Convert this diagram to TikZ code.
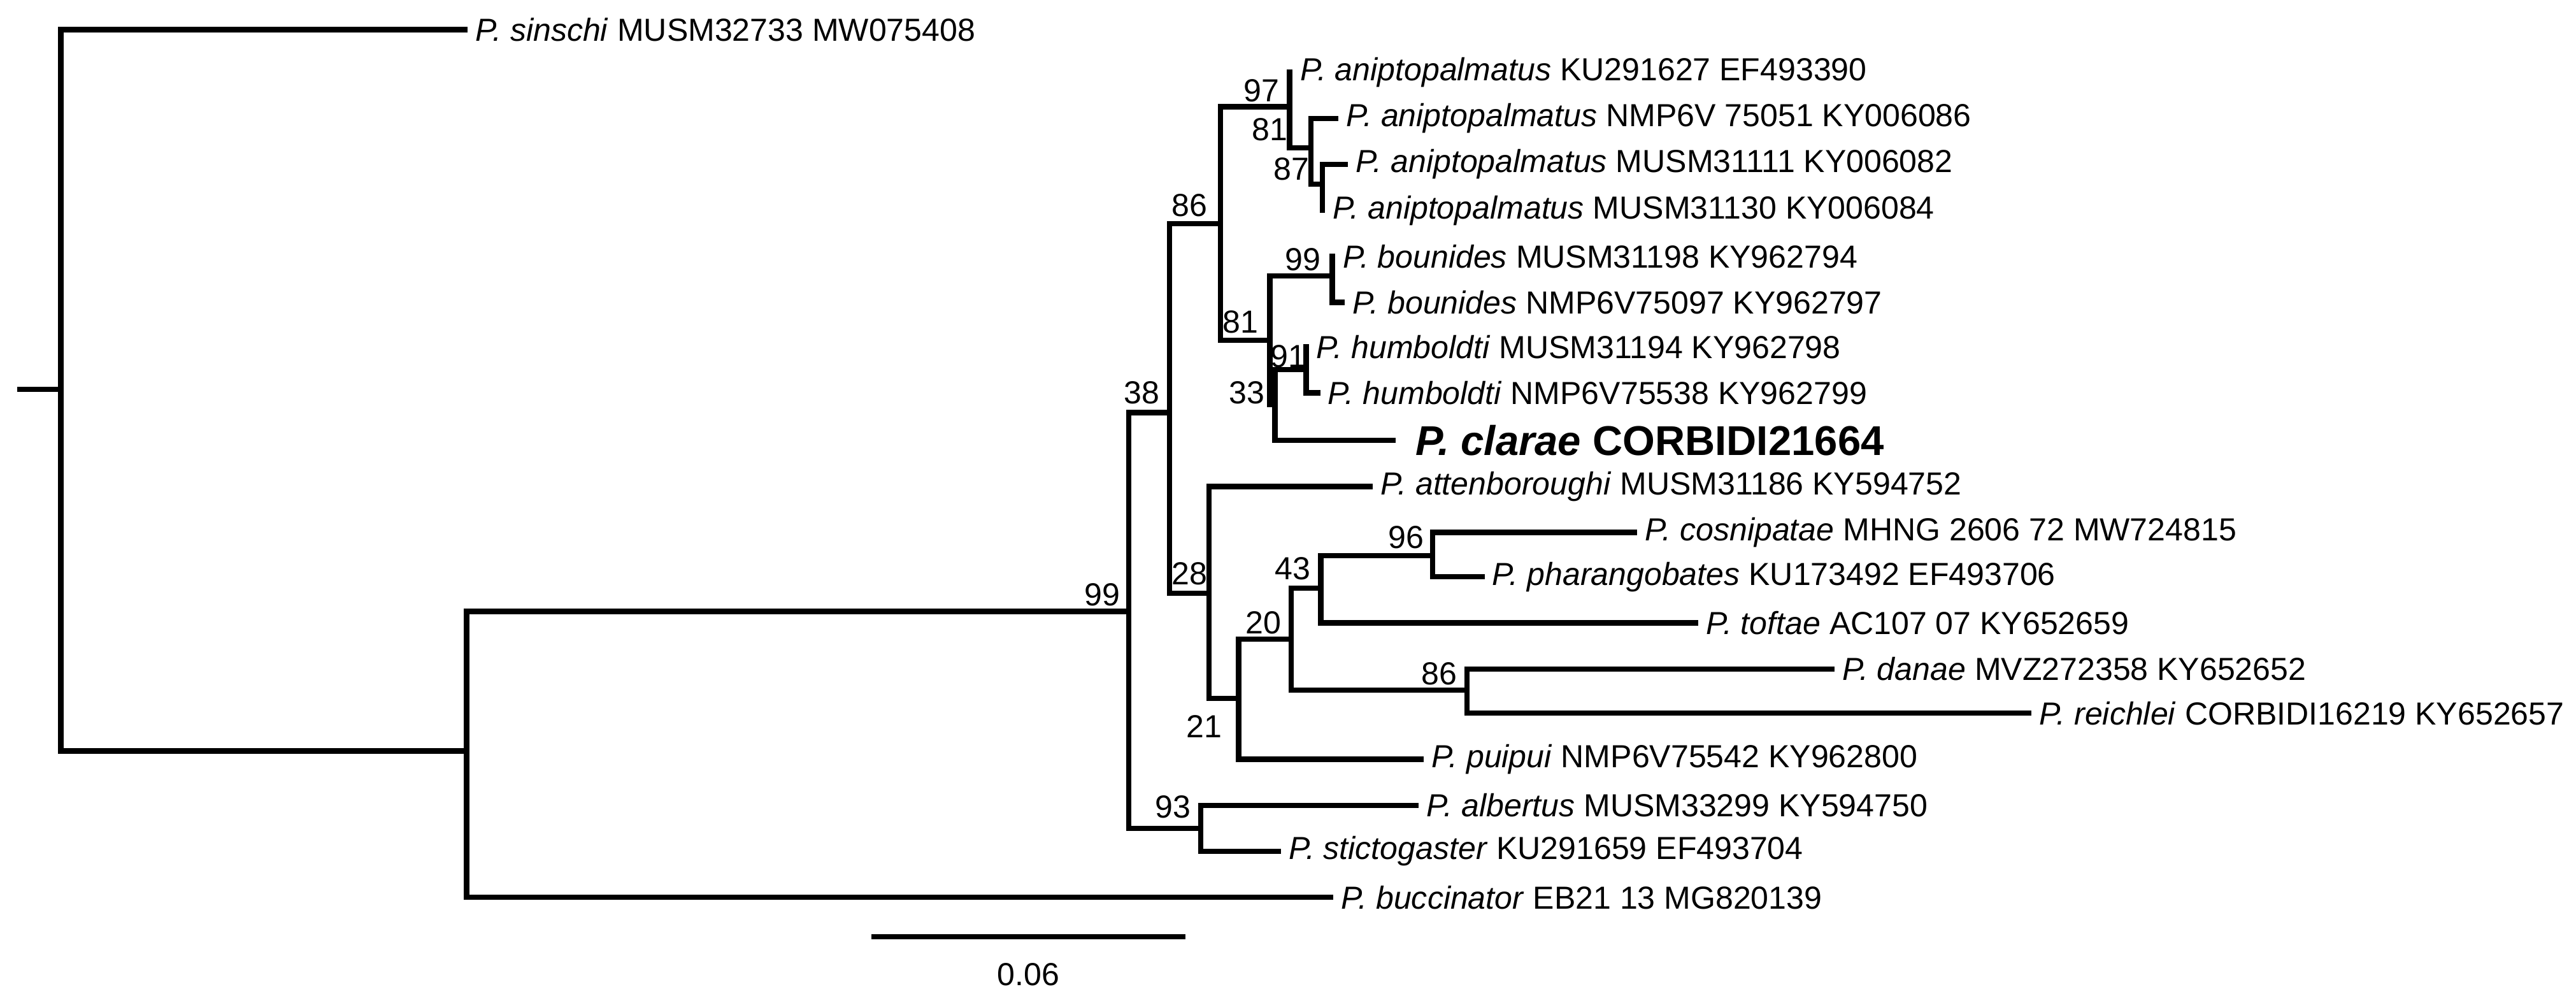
\documentclass[tikz,border=0pt]{standalone}
\usepackage{fontspec}
\setmainfont{Liberation Sans}
\begin{document}
\begin{tikzpicture}[x=0.025cm,y=-0.025cm,line width=2.3pt,line cap=rect,
  tiplab/.style={anchor=west,inner sep=0pt,xshift=0.12cm,font=\fontsize{13.8}{15}\selectfont},
  boot/.style={inner sep=0pt,font=\fontsize{13.8}{15}\selectfont}]
\useasboundingbox (0,0) rectangle (1568,610);
% internal nodes
\coordinate (rs) at (12,237);
\coordinate (root) at (37,237);
\coordinate (L) at (284,457);
\coordinate (n99) at (687,372);
\coordinate (n93) at (731,504);
\coordinate (n38) at (712,251);
\coordinate (n86) at (743,136);
\coordinate (n97) at (785,65);
\coordinate (n81a) at (798,90);
\coordinate (n87) at (805,112);
\coordinate (n81b) at (773,207);
\coordinate (n99b) at (811,168);
\coordinate (n33) at (776,246);
\coordinate (n91) at (795,225);
\coordinate (n28) at (736,361);
\coordinate (n21) at (754,425);
\coordinate (n20) at (786,389);
\coordinate (n43) at (804,358);
\coordinate (n96) at (872,338);
\coordinate (n86c) at (893,420);
% tips
\coordinate (t0) at (283,18);
\coordinate (t1) at (785,44);
\coordinate (t2) at (813,72);
\coordinate (t3) at (819,100);
\coordinate (t4) at (805,128);
\coordinate (t5) at (811,156);
\coordinate (t6) at (817,184);
\coordinate (t7) at (795,211);
\coordinate (t8) at (802,239);
\coordinate (t9) at (848,268);
\coordinate (t10) at (834,296);
\coordinate (t11) at (995,324);
\coordinate (t12) at (902,351);
\coordinate (t13) at (1032,379);
\coordinate (t14) at (1115,407);
\coordinate (t15) at (1235,434);
\coordinate (t16) at (865,462);
\coordinate (t17) at (862,490);
\coordinate (t18) at (778,518);
\coordinate (t19) at (810,546);
% branches
\draw (rs) -- (root);
\draw (root) |- (t0); \draw (root) |- (L);
\draw (L) |- (t19); \draw (L) |- (n99);
\draw (n99) |- (n38); \draw (n99) |- (n93);
\draw (n93) |- (t17); \draw (n93) |- (t18);
\draw (n38) |- (n86); \draw (n38) |- (n28);
\draw (n86) |- (n97); \draw (n86) |- (n81b);
\draw (n97) |- (t1); \draw (n97) |- (n81a);
\draw (n81a) |- (t2); \draw (n81a) |- (n87);
\draw (n87) |- (t3); \draw (n87) |- (t4);
\draw (n81b) |- (n99b); \draw (n81b) |- (n33);
\draw (n99b) |- (t5); \draw (n99b) |- (t6);
\draw (n33) |- (n91); \draw (n33) |- (t9);
\draw (n91) |- (t7); \draw (n91) |- (t8);
\draw (n28) |- (t10); \draw (n28) |- (n21);
\draw (n21) |- (n20); \draw (n21) |- (t16);
\draw (n20) |- (n43); \draw (n20) |- (n86c);
\draw (n43) |- (n96); \draw (n43) |- (t13);
\draw (n96) |- (t11); \draw (n96) |- (t12);
\draw (n86c) |- (t14); \draw (n86c) |- (t15);
% tip labels
\node[tiplab] (l0) at (t0) {\textit{P. sinschi} MUSM32733 MW075408};
\node[tiplab] (l1) at (t1) {\textit{P. aniptopalmatus} KU291627 EF493390};
\node[tiplab] (l2) at (t2) {\textit{P. aniptopalmatus} NMP6V 75051 KY006086};
\node[tiplab] (l3) at (t3) {\textit{P. aniptopalmatus} MUSM31111 KY006082};
\node[tiplab] (l4) at (t4) {\textit{P. aniptopalmatus} MUSM31130 KY006084};
\node[tiplab] (l5) at (t5) {\textit{P. bounides} MUSM31198 KY962794};
\node[tiplab] (l6) at (t6) {\textit{P. bounides} NMP6V75097 KY962797};
\node[tiplab] (l7) at (t7) {\textit{P. humboldti} MUSM31194 KY962798};
\node[tiplab] (l8) at (t8) {\textit{P. humboldti} NMP6V75538 KY962799};
\node[tiplab,font=\fontsize{18}{20}\selectfont\bfseries,xshift=0.18cm] (l9) at (t9) {\textit{P. clarae} CORBIDI21664};
\node[tiplab] (l10) at (t10) {\textit{P. attenboroughi} MUSM31186 KY594752};
\node[tiplab] (l11) at (t11) {\textit{P. cosnipatae} MHNG 2606 72 MW724815};
\node[tiplab] (l12) at (t12) {\textit{P. pharangobates} KU173492 EF493706};
\node[tiplab] (l13) at (t13) {\textit{P. toftae} AC107 07 KY652659};
\node[tiplab] (l14) at (t14) {\textit{P. danae} MVZ272358 KY652652};
\node[tiplab] (l15) at (t15) {\textit{P. reichlei} CORBIDI16219 KY652657};
\node[tiplab] (l16) at (t16) {\textit{P. puipui} NMP6V75542 KY962800};
\node[tiplab] (l17) at (t17) {\textit{P. albertus} MUSM33299 KY594750};
\node[tiplab] (l18) at (t18) {\textit{P. stictogaster} KU291659 EF493704};
\node[tiplab] (l19) at (t19) {\textit{P. buccinator} EB21 13 MG820139};
% support values
\node[boot] (b99) at (671,362) {99};
\node[boot] (b93) at (714,491) {93};
\node[boot] (b38) at (695,239) {38};
\node[boot] (b86) at (724,125) {86};
\node[boot] (b97) at (768,55) {97};
\node[boot] (b81a) at (773,79) {81};
\node[boot] (b87) at (786,103) {87};
\node[boot] (b99b) at (793,158) {99};
\node[boot] (b81b) at (755,196) {81};
\node[boot] (b91) at (784,217) {91};
\node[boot] (b33) at (759,239) {33};
\node[boot] (b28) at (724,349) {28};
\node[boot] (b43) at (787,346) {43};
\node[boot] (b96) at (856,327) {96};
\node[boot] (b20) at (769,379) {20};
\node[boot] (b86c) at (876,410) {86};
\node[boot] (b21) at (733,442) {21};
% scale bar
\coordinate (s1) at (532,570);
\coordinate (s2) at (720,570);
\draw (s1) -- (s2);
\node[boot] (sl) at (626,593) {0.06};
\end{tikzpicture}
\end{document}
